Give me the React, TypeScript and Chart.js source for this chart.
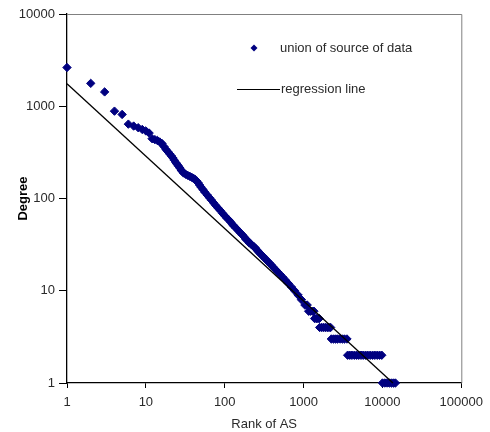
import React, { useEffect, useRef } from "react";
import { Chart, registerables } from "chart.js";

Chart.register(...registerables);

// Scatter data: rank of AS and its degree
const rankValues = [
  1, 2, 3, 4, 5, 6, 7, 8, 9, 10, 11, 12, 13, 14, 15, 16, 17, 18, 19, 20,
  21, 22, 23, 24, 25, 26, 27, 28, 29, 30, 32, 34, 36, 38, 40, 42, 44, 46, 48, 50,
  53, 56, 60, 64, 68, 72, 77, 82, 88, 94, 100,
  107, 114, 120, 126, 132, 138, 145, 152, 160, 169, 178, 186, 195, 205, 215, 225,
  235, 244, 253, 263, 273, 286, 300, 314, 330, 348, 368, 390, 413, 440, 470, 505,
  545, 590, 640, 700, 770, 850, 940, 1040, 1110,
  1160, 1220, 1290, 1350,
  1380, 1450, 1520, 1580,
  1600, 1700, 1800, 1900, 2000, 2100, 2200,
  2250, 2400, 2550, 2700, 2900, 3100, 3300, 3550,
  3620, 3850, 4100, 4400, 4700, 5000, 5350, 5700, 6100, 6500, 7000, 7500, 8000, 8600, 9200, 9800,
  10000, 10700, 11400, 12200, 13000, 13800, 14600,
];
const degreeValues = [
  2630, 1770, 1430, 885, 815, 640, 610, 585, 560, 540, 512, 445, 435, 425, 410, 395, 365, 340, 322, 305,
  290, 275, 260, 245, 234, 224, 214, 204, 196, 189, 183, 178, 174, 170, 166, 161, 155, 148, 140, 133,
  125, 117, 109, 102, 96, 90, 84, 79, 74, 69, 65,
  61, 58, 55, 52, 50, 48, 46, 44, 42, 40, 38, 36, 35, 33, 32, 31,
  30, 29, 28, 27, 26, 25, 24, 23, 22, 21, 20, 19, 18, 17, 16, 15,
  14, 13, 12, 11, 10, 9, 8, 7, 7,
  6, 6, 6, 6,
  5, 5, 5, 5,
  4, 4, 4, 4, 4, 4, 4,
  3, 3, 3, 3, 3, 3, 3, 3,
  2, 2, 2, 2, 2, 2, 2, 2, 2, 2, 2, 2, 2, 2, 2, 2,
  1, 1, 1, 1, 1, 1, 1,
];

// Regression line end points
const regressionRanks = [1, 13580];
const regressionDegrees = [1750, 1];

const xTickValues = [1, 10, 100, 1000, 10000, 100000];
const yTickValues = [1, 10, 100, 1000, 10000];

const seriesLabels = ["union of source of data", "regression line"];
const xTitle = "Rank of AS";
const yTitle = "Degree";

const FONT = "'Liberation Sans', Arial, sans-serif";
const NAVY = "#000080";
const TEXT = "#2a2a2a";

const framePlugin = {
  id: "frame",
  beforeDatasetsDraw(chart: any) {
    const { ctx, chartArea } = chart;
    ctx.save();
    ctx.strokeStyle = "#808080";
    ctx.lineWidth = 1;
    ctx.beginPath();
    ctx.moveTo(chartArea.left, chartArea.top + 0.5);
    ctx.lineTo(chartArea.right + 0.5, chartArea.top + 0.5);
    ctx.lineTo(chartArea.right + 0.5, chartArea.bottom);
    ctx.stroke();
    ctx.restore();
  },
};

const legendPlugin = {
  id: "innerLegend",
  afterDraw(chart: any) {
    const { ctx, chartArea } = chart;
    const x0 = chartArea.left;
    const y0 = chartArea.top;
    ctx.save();
    // diamond marker
    const dx = x0 + 187;
    const dy = y0 + 34;
    ctx.fillStyle = NAVY;
    ctx.beginPath();
    ctx.moveTo(dx - 3.5, dy);
    ctx.lineTo(dx, dy - 3.5);
    ctx.lineTo(dx + 3.5, dy);
    ctx.lineTo(dx, dy + 3.5);
    ctx.closePath();
    ctx.fill();
    // line sample
    const ly = y0 + 75.5;
    ctx.strokeStyle = "#000";
    ctx.lineWidth = 1.2;
    ctx.beginPath();
    ctx.moveTo(x0 + 170, ly);
    ctx.lineTo(x0 + 213, ly);
    ctx.stroke();
    // text
    ctx.fillStyle = TEXT;
    ctx.font = `13px ${FONT}`;
    ctx.textBaseline = "middle";
    ctx.textAlign = "left";
    ctx.fillText(seriesLabels[0], x0 + 213, dy);
    ctx.fillText(seriesLabels[1], x0 + 214, ly);
    ctx.restore();
  },
};

export default function App() {
  const canvasRef = useRef<HTMLCanvasElement | null>(null);

  useEffect(() => {
    const canvas = canvasRef.current;
    if (!canvas) return;
    const scatterData = rankValues.map((r, i) => ({ x: r, y: degreeValues[i] }));
    const lineData = regressionRanks.map((r, i) => ({ x: r, y: regressionDegrees[i] }));

    const chart = new Chart(canvas, {
      type: "scatter",
      data: {
        datasets: [
          {
            label: seriesLabels[1],
            data: lineData,
            showLine: true,
            borderColor: "#000000",
            borderWidth: 1.3,
            pointRadius: 0,
            clip: false,
          } as any,
          {
            label: seriesLabels[0],
            data: scatterData,
            pointStyle: "rectRot",
            pointRadius: 4.2,
            pointBorderWidth: 1,
            backgroundColor: NAVY,
            borderColor: NAVY,
            showLine: false,
            clip: false,
          } as any,
        ],
      },
      options: {
        responsive: false,
        animation: false,
        devicePixelRatio: 1,
        layout: { padding: { top: 14, right: 27, left: 0, bottom: 0 } },
        plugins: {
          legend: { display: false },
          tooltip: { enabled: false },
        },
        scales: {
          x: {
            type: "logarithmic",
            min: 1,
            max: 100000,
            afterBuildTicks: (s: any) => {
              s.ticks = xTickValues.map((v) => ({ value: v }));
            },
            afterFit: (s: any) => {
              s.height = 49;
            },
            ticks: {
              autoSkip: false,
              maxRotation: 0,
              padding: 7,
              color: TEXT,
              font: { family: FONT, size: 13 },
              callback: (v: any) => String(v),
            },
            grid: {
              display: true,
              drawOnChartArea: false,
              drawTicks: true,
              tickLength: 5,
              color: "#000",
            },
            border: { display: true, color: "#000", width: 1.3 },
            title: {
              display: true,
              text: xTitle,
              color: TEXT,
              font: { family: FONT, size: 13 },
              padding: { top: 0, bottom: 0 },
            },
          },
          y: {
            type: "logarithmic",
            min: 1,
            max: 10000,
            afterBuildTicks: (s: any) => {
              s.ticks = yTickValues.map((v) => ({ value: v }));
            },
            afterFit: (s: any) => {
              s.width = 67;
            },
            ticks: {
              autoSkip: false,
              padding: 4,
              color: TEXT,
              font: { family: FONT, size: 13 },
              callback: (v: any) => String(v),
            },
            grid: {
              display: true,
              drawOnChartArea: false,
              drawTicks: true,
              tickLength: 8,
              color: "#000",
            },
            border: { display: true, color: "#000", width: 1.3 },
            title: {
              display: true,
              text: yTitle,
              color: "#000",
              font: { family: FONT, size: 13, weight: "bold" },
              padding: { top: 16, bottom: 0 },
            },
          },
        },
      },
      plugins: [framePlugin, legendPlugin],
    });
    return () => chart.destroy();
  }, []);

  return (
    <div style={{ position: "absolute", left: 0, top: 0, width: 490, height: 432, background: "#fff" }}>
      <canvas ref={canvasRef} width={490} height={432} />
    </div>
  );
}
